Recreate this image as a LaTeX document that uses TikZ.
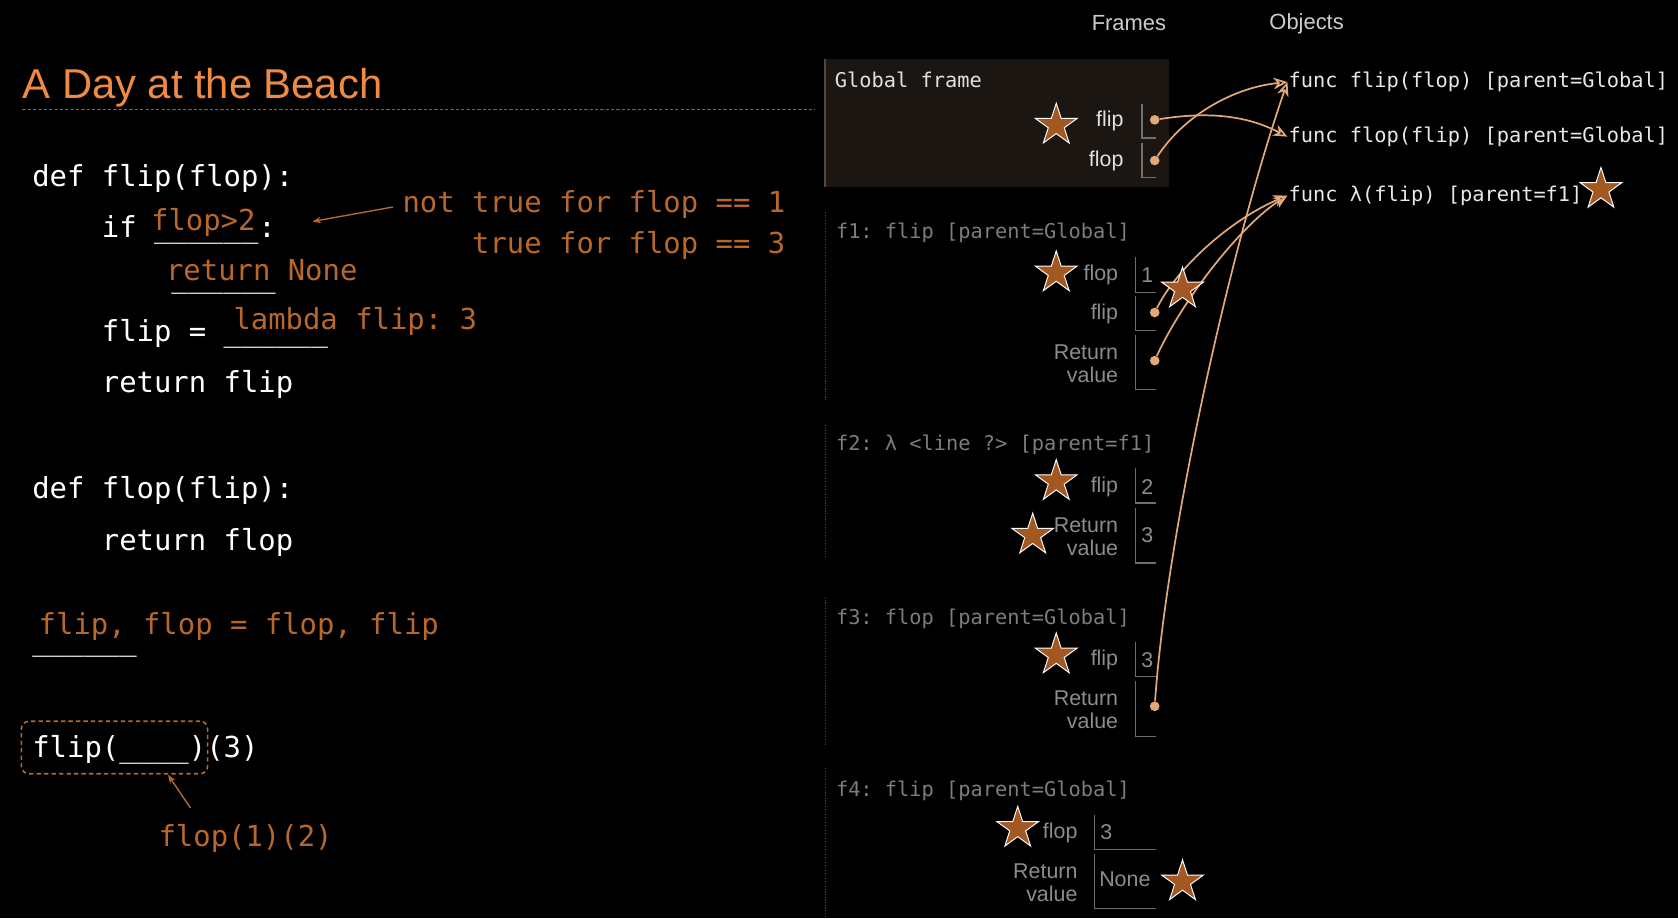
\documentclass[tikz,border=0pt]{standalone}
\usepackage{fontspec}
\usetikzlibrary{shapes.geometric,arrows.meta,calc}
\newfontfamily\monof{DejaVu Sans Mono}
\newfontfamily\sansf{Liberation Sans}
\newcommand\codef{\monof\fontsize{27}{32}\selectfont}
\newcommand\objf{\monof\fontsize{19}{22}\selectfont}
\newcommand\labf{\sansf\fontsize{20}{21.5}\selectfont}
\newcommand\titlef{\sansf\fontsize{39}{44}\selectfont}
\newcommand\headf{\sansf\fontsize{20.5}{24}\selectfont}
\definecolor{titleor}{RGB}{238,138,66}
\definecolor{codeor}{RGB}{183,104,42}
\definecolor{starc}{RGB}{163,88,34}
\definecolor{arrowc}{RGB}{226,168,120}
\definecolor{objtxt}{RGB}{232,232,232}
\definecolor{frtxt}{RGB}{125,125,125}
\definecolor{labgray}{RGB}{140,140,140}
\definecolor{glab}{RGB}{225,225,225}
\definecolor{brc}{RGB}{110,110,110}
\definecolor{frl}{RGB}{75,75,75}
\definecolor{gfill}{RGB}{28,22,18}
\definecolor{gedge}{RGB}{80,70,64}
\definecolor{headc}{RGB}{205,205,205}
\definecolor{tline}{RGB}{105,105,105}
\frenchspacing
\begin{document}
\frenchspacing
\begin{tikzpicture}[x=1pt,y=-1pt,
  code/.style={font=\codef, text=white, inner sep=0pt, anchor=base west},
  ocode/.style={code, text=codeor},
  obj/.style={font=\objf, text=objtxt, inner sep=1pt, anchor=base west},
  ftitle/.style={font=\objf, text=frtxt, inner sep=0pt, anchor=west},
  vlab/.style={font=\labf, text=labgray, inner sep=0pt, anchor=east, align=right},
  glabs/.style={vlab, text=glab},
  val/.style={font=\labf, text=labgray, inner sep=0pt},
  dotn/.style={circle, fill=arrowc, inner sep=0pt, minimum size=9pt},
  starn/.style={star, star points=5, star point ratio=2.618, minimum size=41pt, inner sep=0pt, fill=starc, draw=white, line width=0.9pt},
  bracket/.style={draw=brc, line width=1.2pt},
  ptr/.style={draw=arrowc, line width=1.6pt, -{Stealth[length=13pt,width=11pt,open,inset=4pt]}},
  oarrow/.style={draw=codeor, line width=1.3pt, -{Stealth[length=8pt,width=6pt]}},
  frline/.style={draw=frl, line width=1pt, dash pattern=on 1pt off 1.5pt},
]
% background
\fill[black] (0,0) rectangle (1568,858);
\useasboundingbox (0,0) rectangle (1568,858);

% ---------- left: title and code ----------
\node[font=\titlef, text=titleor, inner sep=0pt, anchor=base west] (title) at (21,92) {A Day at the Beach};
\draw[tline, line width=0.8pt, dash pattern=on 3pt off 2pt] (21,102) -- (762,102);

\node[code] (l1) at (30,174) {def flip(flop):};
\node[code] (l2) at (95,222) {if \_\_\_\_\_\_:};
\node[ocode] (cond) at (141,215) {flop>2};
\node[code] (l3) at (160,269) {\_\_\_\_\_\_};
\node[ocode] (retnone) at (155,262) {return None};
\node[code] (l4) at (95,319) {flip = \_\_\_\_\_\_};
\node[ocode] (lam) at (218,308) {lambda flip: 3};
\node[code] (l5) at (95,367) {return flip};
\node[code] (l6) at (30,466) {def flop(flip):};
\node[code] (l7) at (95,514) {return flop};
\node[ocode] (swap) at (36,593) {flip, flop = flop, flip};
\node[code] (l8) at (30,608) {\_\_\_\_\_\_};
\node[code] (call) at (30,708) {flip(\_\_\_\_)(3)};
\node[draw=codeor, line width=1.5pt, dash pattern=on 4pt off 3pt, rounded corners=7pt,
      minimum width=174pt, minimum height=49pt, inner sep=0pt] (callbox) at (107,698.5) {};
\node[ocode] (f12) at (148,791) {flop(1)(2)};
\coordinate (a2s) at (178,755);
\coordinate (a2e) at (157,724);
\draw[oarrow] (a2s) -- (a2e);

\node[ocode, anchor=base east] (nottrue) at (734,199) {not true for flop == 1};
\node[ocode, anchor=base east] (istrue) at (734,237) {true for flop == 3};
\coordinate (a1e) at (292,207);
\draw[oarrow] ($(nottrue.west)+(-9,2)$) -- (a1e);

% ---------- right: headers ----------
\node[font=\headf, text=headc, inner sep=0pt, anchor=west] (hframes) at (1020,22) {Frames};
\node[font=\headf, text=headc, inner sep=0pt, anchor=west] (hobjects) at (1186,22) {Objects};

% ---------- global frame ----------
\fill[gfill] (771,55) rectangle (1092,175);
\draw[gedge, line width=1.5pt] (771,55) -- (771,175);
\node[ftitle, text=glab] (gtitle) at (780,75) {Global frame};
\node[glabs] (gflip) at (1050,113) {flip};
\node[glabs] (gflop) at (1050,150) {flop};
\draw[bracket] (1067,97) -- (1067,129) -- (1080,129);
\draw[bracket] (1067,134) -- (1067,166) -- (1080,166);

% ---------- f1 ----------
\draw[frline] (771,198) -- (771,374);
\node[ftitle] (f1t) at (781,218) {f1: flip [parent=Global]};
\node[vlab] (f1flop) at (1045,257) {flop};
\node[val] (f1v1) at (1072,257) {1};
\draw[bracket] (1061,240) -- (1061,273) -- (1080,273);
\node[vlab] (f1flip) at (1045,293) {flip};
\draw[bracket] (1061,277) -- (1061,309) -- (1080,309);
\node[vlab] (f1ret) at (1045,339.5) {Return\\value};
\draw[bracket] (1061,313) -- (1061,364) -- (1080,364);

% ---------- f2 ----------
\draw[frline] (771,397) -- (771,522);
\node[ftitle] (f2t) at (781,416) {f2: λ <line ?> [parent=f1]};
\node[vlab] (f2flip) at (1045,455) {flip};
\node[val] (f2v1) at (1072,455) {2};
\draw[bracket] (1061,437) -- (1061,470) -- (1080,470);
\node[vlab] (f2ret) at (1045,501.5) {Return\\value};
\node[val] (f2v2) at (1072,500) {3};
\draw[bracket] (1061,475) -- (1061,526) -- (1080,526);

% ---------- f3 ----------
\draw[frline] (771,558) -- (771,696);
\node[ftitle] (f3t) at (781,578) {f3: flop [parent=Global]};
\node[vlab] (f3flip) at (1045,617) {flip};
\node[val] (f3v1) at (1072,617) {3};
\draw[bracket] (1061,600) -- (1061,632) -- (1080,632);
\node[vlab] (f3ret) at (1045,663) {Return\\value};
\draw[bracket] (1061,636) -- (1061,688) -- (1080,688);

% ---------- f4 ----------
\draw[frline] (771,718) -- (771,858);
\node[ftitle] (f4t) at (781,739) {f4: flip [parent=Global]};
\node[vlab] (f4flop) at (1007,778) {flop};
\node[val, anchor=west] (f4v1) at (1028,778) {3};
\draw[bracket] (1023,762) -- (1023,794) -- (1080,794);
\node[vlab] (f4ret) at (1007,824.5) {Return\\value};
\node[val, anchor=west] (f4v2) at (1027,822) {None};
\draw[bracket] (1023,798) -- (1023,849) -- (1080,849);

% ---------- objects ----------
\node[obj] (funcflip) at (1203,82) {func flip(flop) [parent=Global]};
\node[obj] (funcflop) at (1203,133) {func flop(flip) [parent=Global]};
\node[obj] (funclam) at (1203,188) {func λ(flip) [parent=f1]};

% ---------- pointer dots ----------
\node[dotn] (gflipd) at (1079,112) {};
\node[dotn] (gflopd) at (1079,150) {};
\node[dotn] (f1flipd) at (1079,292) {};
\node[dotn] (f1retd) at (1079,337) {};
\node[dotn] (f3retd) at (1079,660) {};

% ---------- pointers ----------
\draw[ptr] (gflipd) .. controls (1130,104) and (1165,108) .. (funcflop.west);
\draw[ptr] (gflopd) .. controls (1105,110) and (1150,82) .. (funcflip.west);
\draw[ptr] (f1flipd) .. controls (1100,250) and (1150,205) .. (funclam.west);
\draw[ptr] (f1retd) .. controls (1105,280) and (1160,210) .. (funclam.west);
\draw[ptr] (f3retd) .. controls (1090,500) and (1150,230) .. (funcflip.west);

% ---------- stars ----------
\node[starn] (s1) at (987,117) {};
\node[starn] (s2) at (987,255) {};
\node[starn] (s3) at (1105,270) {};
\node[starn] (s4) at (1496,177) {};
\node[starn] (s5) at (987,450) {};
\node[starn] (s6) at (965,500) {};
\node[starn] (s7) at (987,612) {};
\node[starn] (s8) at (951,774) {};
\node[starn] (s9) at (1105,824) {};
\end{tikzpicture}
\end{document}
